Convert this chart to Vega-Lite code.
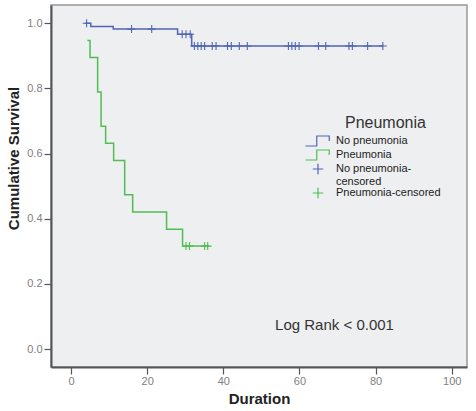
{
  "$schema": "https://vega.github.io/schema/vega-lite/v6.json",
  "width": 416,
  "height": 362,
  "autosize": {"type": "none"},
  "padding": {"left": 51, "top": 5, "right": 9, "bottom": 44},
  "background": "white",
  "config": {
    "font": "Liberation Sans",
    "view": {"fill": "#edeff1", "stroke": "#999999", "strokeWidth": 1.5},
    "axis": {
      "grid": false,
      "domainColor": "#555555",
      "domainWidth": 2,
      "tickColor": "#555555",
      "tickSize": 7,
      "tickWidth": 1.2,
      "labelColor": "#808080",
      "labelFont": "Liberation Sans",
      "labelFontSize": 11,
      "titleFont": "Liberation Sans",
      "titleFontSize": 15,
      "titleFontWeight": "bold",
      "titleColor": "#222222"
    },
    "legend": {
      "orient": "none",
      "legendX": 261,
      "legendY": 110,
      "padding": 0,
      "titleFont": "Liberation Sans",
      "titleFontSize": 16,
      "titleFontWeight": "normal",
      "titleColor": "#333333",
      "titlePadding": 4,
      "titleAnchor": "start",
      "labelFont": "Liberation Sans",
      "labelFontSize": 11,
      "labelColor": "#222222",
      "labelOffset": 12,
      "symbolSize": 100,
      "rowPadding": -3
    }
  },
  "datasets": {
    "curves": [
      {"series": "No pneumonia", "t": 3.7, "s": 1.0},
      {"series": "No pneumonia", "t": 5.2, "s": 0.99},
      {"series": "No pneumonia", "t": 11.1, "s": 0.982},
      {"series": "No pneumonia", "t": 28.0, "s": 0.966},
      {"series": "No pneumonia", "t": 31.7, "s": 0.93},
      {"series": "No pneumonia", "t": 82.0, "s": 0.93},
      {"series": "Pneumonia", "t": 4.3, "s": 0.947},
      {"series": "Pneumonia", "t": 5.0, "s": 0.895},
      {"series": "Pneumonia", "t": 7.0, "s": 0.789},
      {"series": "Pneumonia", "t": 7.9, "s": 0.684},
      {"series": "Pneumonia", "t": 9.1, "s": 0.632},
      {"series": "Pneumonia", "t": 11.2, "s": 0.579},
      {"series": "Pneumonia", "t": 14.1, "s": 0.474},
      {"series": "Pneumonia", "t": 16.2, "s": 0.421},
      {"series": "Pneumonia", "t": 25.1, "s": 0.368},
      {"series": "Pneumonia", "t": 29.3, "s": 0.316},
      {"series": "Pneumonia", "t": 36.3, "s": 0.316}
    ],
    "censors": [
      {"series": "No pneumonia-censored", "t": 4.1, "s": 1.0},
      {"series": "No pneumonia-censored", "t": 15.9, "s": 0.982},
      {"series": "No pneumonia-censored", "t": 21.2, "s": 0.982},
      {"series": "No pneumonia-censored", "t": 29.2, "s": 0.966},
      {"series": "No pneumonia-censored", "t": 30.2, "s": 0.966},
      {"series": "No pneumonia-censored", "t": 31.3, "s": 0.966},
      {"series": "No pneumonia-censored", "t": 32.4, "s": 0.93},
      {"series": "No pneumonia-censored", "t": 33.3, "s": 0.93},
      {"series": "No pneumonia-censored", "t": 34.2, "s": 0.93},
      {"series": "No pneumonia-censored", "t": 35.1, "s": 0.93},
      {"series": "No pneumonia-censored", "t": 37.1, "s": 0.93},
      {"series": "No pneumonia-censored", "t": 38.1, "s": 0.93},
      {"series": "No pneumonia-censored", "t": 41.1, "s": 0.93},
      {"series": "No pneumonia-censored", "t": 42.1, "s": 0.93},
      {"series": "No pneumonia-censored", "t": 44.2, "s": 0.93},
      {"series": "No pneumonia-censored", "t": 46.3, "s": 0.93},
      {"series": "No pneumonia-censored", "t": 57.1, "s": 0.93},
      {"series": "No pneumonia-censored", "t": 58.0, "s": 0.93},
      {"series": "No pneumonia-censored", "t": 58.9, "s": 0.93},
      {"series": "No pneumonia-censored", "t": 59.9, "s": 0.93},
      {"series": "No pneumonia-censored", "t": 65.0, "s": 0.93},
      {"series": "No pneumonia-censored", "t": 66.9, "s": 0.93},
      {"series": "No pneumonia-censored", "t": 73.0, "s": 0.93},
      {"series": "No pneumonia-censored", "t": 73.9, "s": 0.93},
      {"series": "No pneumonia-censored", "t": 77.9, "s": 0.93},
      {"series": "No pneumonia-censored", "t": 81.9, "s": 0.93},
      {"series": "Pneumonia-censored", "t": 30.2, "s": 0.316},
      {"series": "Pneumonia-censored", "t": 31.1, "s": 0.316},
      {"series": "Pneumonia-censored", "t": 35.1, "s": 0.316},
      {"series": "Pneumonia-censored", "t": 35.9, "s": 0.316}
    ],
    "note": [{"t": 53.6, "s": 0.075, "label": "Log Rank < 0.001"}]
  },
  "encoding": {
    "x": {
      "field": "t", "type": "quantitative",
      "scale": {"domain": [-5.25, 104.0], "nice": false, "zero": false},
      "axis": {"title": "Duration", "values": [0, 20, 40, 60, 80, 100], "labelPadding": 1, "titlePadding": 5}
    },
    "y": {
      "field": "s", "type": "quantitative",
      "scale": {"domain": [-0.055, 1.056], "nice": false, "zero": false},
      "axis": {"title": "Cumulative Survival", "values": [0, 0.2, 0.4, 0.6, 0.8, 1.0], "format": ".1f", "labelPadding": 2, "titlePadding": 5, "titleY": 153}
    }
  },
  "layer": [
    {
      "data": {"name": "curves"},
      "mark": {"type": "line", "interpolate": "step-after", "strokeWidth": 1.5},
      "encoding": {
        "color": {
          "field": "series", "type": "nominal",
          "scale": {
            "domain": ["No pneumonia", "Pneumonia", "No pneumonia-censored", "Pneumonia-censored"],
            "range": ["#5066b6", "#52bd52", "#5066b6", "#52bd52"]
          },
          "legend": {
            "title": "Pneumonia",
            "labelExpr": "datum.label == 'No pneumonia-censored' ? ['No pneumonia-', 'censored'] : datum.label",
            "encode": {
              "title": {"update": {"dx": {"value": 33}}},
              "symbols": {
                "update": {
                  "shape": {"signal": "datum.index < 2 ? 'M-1,0.4L-0.1,0.4L-0.1,-0.4L0.9,-0.4L0.9,0' : 'M-1,0L1,0M0,-1L0,1'"},
                  "size": {"signal": "datum.index < 2 ? 625 : 110"},
                  "fill": {"value": "transparent"},
                  "stroke": {"scale": "color", "field": "value"},
                  "strokeWidth": {"value": 1.2},
                  "opacity": {"value": 1}
                }
              }
            }
          }
        }
      }
    },
    {
      "data": {"name": "censors"},
      "mark": {"type": "point", "shape": "M-1,0L1,0M0,-1L0,1", "size": 64, "filled": false, "strokeWidth": 1.1, "opacity": 1},
      "encoding": {
        "color": {"field": "series", "type": "nominal"}
      }
    },
    {
      "data": {"name": "note"},
      "mark": {"type": "text", "align": "left", "baseline": "middle", "fontSize": 15, "color": "#333333", "font": "Liberation Sans"},
      "encoding": {
        "text": {"field": "label"}
      }
    }
  ]
}
